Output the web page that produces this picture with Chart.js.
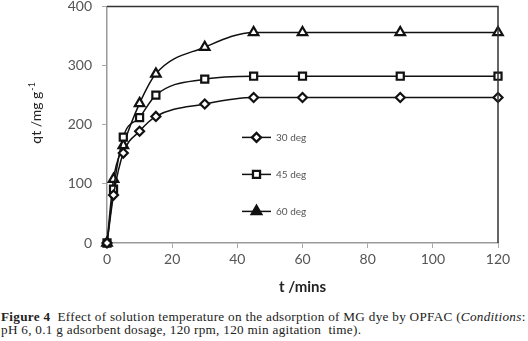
<!DOCTYPE html>
<html>
<head>
  <title>Effect of solution temperature</title>
  <style>
    body {
      margin: 0;
      background: #fff;
      width: 528px;
      height: 341px;
      overflow: hidden;
      position: relative;
    }
    #wrap {
      position: absolute;
      left: 0;
      top: -12px;
      width: 528px;
      height: 308px;
    }
    .caption {
      position: absolute;
      left: 1px;
      top: 311px;
      width: 530px;
      font-family: "Liberation Serif", serif;
      font-size: 13.2px;
      letter-spacing: 0.29px;
      line-height: 12.5px;
      color: #222;
      white-space: nowrap;
    }
  </style>
</head>
<body>
  <div id="wrap">
    <canvas id="qtChart" width="528" height="308"></canvas>
  </div>
  <div class="caption">
    <b>Figure 4</b>&nbsp; Effect of solution temperature on the adsorption of MG dye by OPFAC (<i>Conditions</i>:<br>
    pH 6, 0.1 g adsorbent dosage, 120 rpm, 120 min agitation &nbsp;time).
  </div>

  <script src="https://cdn.jsdelivr.net/npm/chart.js"></script>
  <script>
    const times = [0, 2, 5, 10, 15, 30, 45, 60, 90, 120];
    const deg30 = [0, 81, 152, 189, 214, 235, 246, 246, 246, 246];
    const deg45 = [0, 91, 179, 212, 250, 277, 282, 282, 282, 282];
    const deg60 = [0, 108, 165, 236, 286, 331, 356, 356, 356, 356];
    const seriesLabels = ['30 deg', '45 deg', '60 deg'];
    const markers = ['rectRot', 'rect', 'triangle'];
    const xTicks = [0, 20, 40, 60, 80, 100, 120];
    const yTicks = [0, 100, 200, 300, 400];

    const tickFont = { family: 'Lato', size: 14 };

    function toPoints(vals) {
      return vals.map((v, i) => ({ x: times[i], y: v }));
    }

    function makeSet(label, vals, marker, radius) {
      return {
        label: label,
        data: toPoints(vals),
        borderColor: '#111',
        borderWidth: 1.5,
        pointStyle: marker,
        pointRadius: radius,
        pointBorderWidth: 2.2,
        pointBackgroundColor: '#fff',
        pointBorderColor: '#111',
        cubicInterpolationMode: 'monotone',
        tension: 0.4,
        fill: false,
        clip: false
      };
    }

    // frame on top and right, y title, and the inline legend
    const extras = {
      id: 'extras',
      afterDatasetsDraw(chart) {
        const ctx = chart.ctx;
        const a = chart.chartArea;
        ctx.save();
        ctx.strokeStyle = '#333';
        ctx.lineWidth = 1.5;
        ctx.beginPath();
        ctx.moveTo(a.left, a.top);
        ctx.lineTo(a.right, a.top);
        ctx.lineTo(a.right, a.bottom);
        ctx.stroke();

        // legend
        const lx = a.left + 135;
        const rows = [a.top + 131, a.top + 168, a.top + 205];
        chart.data.datasets.forEach((ds, i) => {
          const y = rows[i];
          ctx.strokeStyle = '#111';
          ctx.lineWidth = 1.5;
          ctx.beginPath();
          ctx.moveTo(lx, y);
          ctx.lineTo(lx + 29, y);
          ctx.stroke();
          ctx.fillStyle = i === 2 ? '#111' : '#fff';
          ctx.lineWidth = 2.3;
          Chart.helpers.drawPoint(ctx, {
            pointStyle: ds.pointStyle,
            radius: ds.pointRadius,
            borderWidth: 2.3
          }, lx + 14.5, y);
          ctx.fillStyle = '#555';
          ctx.font = '10px Lato';
          ctx.textBaseline = 'middle';
          ctx.textAlign = 'left';
          ctx.fillText(ds.label, lx + 34, y);
        });

        // y title with superscript
        ctx.fillStyle = '#222';
        ctx.translate(36, a.top + 107);
        ctx.rotate(-Math.PI / 2);
        ctx.font = '14px Lato';
        ctx.textBaseline = 'alphabetic';
        const main = 'qt /mg g';
        const w = ctx.measureText(main).width;
        ctx.font = '9px Lato';
        const sw = ctx.measureText('-1').width;
        const start = -(w + sw) / 2;
        ctx.font = '14px Lato';
        ctx.textAlign = 'left';
        ctx.fillText(main, start, 5);
        ctx.font = '9px Lato';
        ctx.fillText('-1', start + w + 1, -1);
        ctx.restore();
      }
    };

    const ctx = document.getElementById('qtChart').getContext('2d');
    const chart = new Chart(ctx, {
      type: 'line',
      data: {
        datasets: [
          makeSet(seriesLabels[0], deg30, markers[0], 4.5),
          makeSet(seriesLabels[1], deg45, markers[1], 5),
          makeSet(seriesLabels[2], deg60, markers[2], 5.5)
        ]
      },
      options: {
        responsive: false,
        animation: false,
        layout: { padding: { top: 6, right: 30, left: 0, bottom: 0 } },
        plugins: {
          legend: { display: false },
          tooltip: { enabled: false }
        },
        scales: {
          x: {
            type: 'linear',
            min: 0,
            max: 120,
            afterBuildTicks(scale) {
              scale.ticks = xTicks.map(v => ({ value: v }));
            },
            afterFit(scale) {
              scale.height = 53;
            },
            border: { color: '#999', width: 1.5 },
            grid: { drawOnChartArea: false, drawTicks: true, tickLength: 5, color: '#aaa' },
            ticks: { font: tickFont, color: '#555', padding: 3 },
            title: {
              display: true,
              text: 't /mins',
              font: { family: 'Lato', size: 15, weight: 'bold' },
              color: '#222',
              padding: { top: 2, bottom: 0 }
            }
          },
          y: {
            min: 0,
            max: 400,
            afterBuildTicks(scale) {
              scale.ticks = yTicks.map(v => ({ value: v }));
            },
            afterFit(scale) {
              scale.width = 107;
            },
            border: { color: '#999', width: 1.5 },
            grid: { drawOnChartArea: false, drawTicks: true, tickLength: 5, color: '#aaa' },
            ticks: { font: tickFont, color: '#555', padding: 10 }
          }
        }
      },
      plugins: [extras]
    });
  </script>
</body>
</html>
